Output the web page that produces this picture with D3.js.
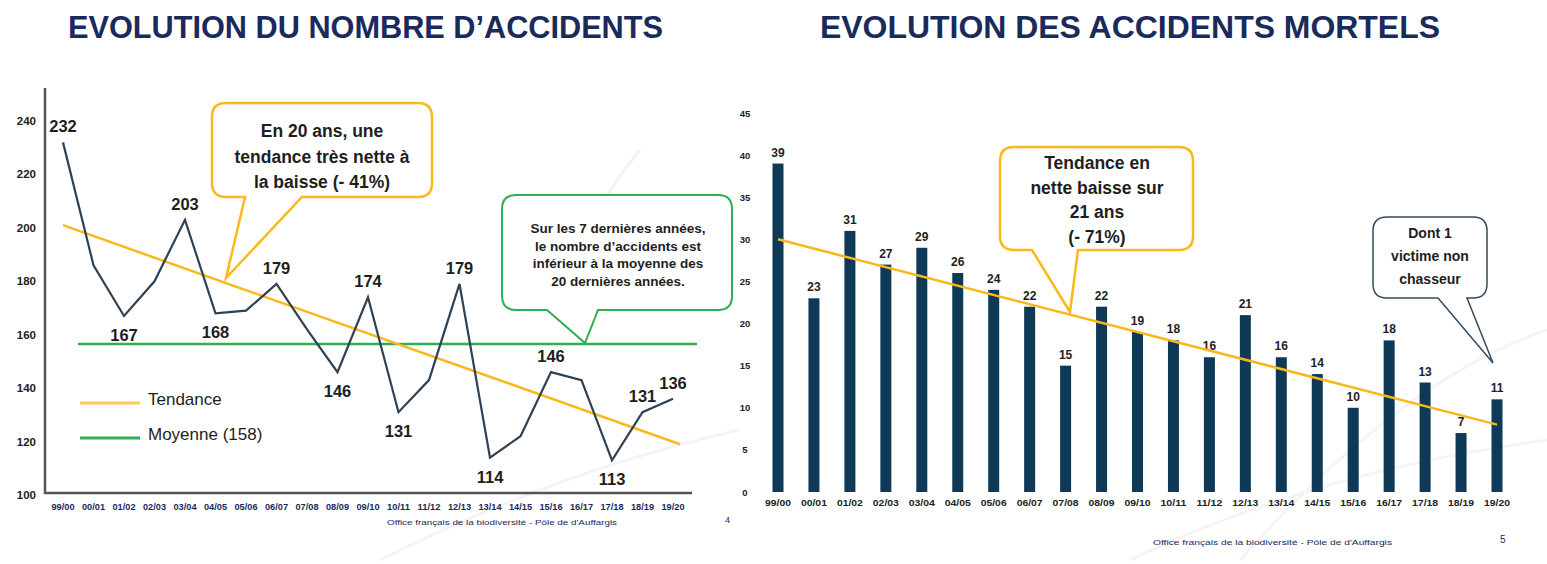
<!DOCTYPE html>
<html>
<head>
<meta charset="utf-8">
<script src="https://cdnjs.cloudflare.com/ajax/libs/d3/7.8.5/d3.min.js"></script>
<style>
  body { margin: 0; background: #fff; }
  svg { display: block; font-family: "Liberation Sans", Arial, sans-serif; }
</style>
</head>
<body>
<svg id="chart" width="1547" height="564"></svg>
<script>
// seasons (shared by both charts)
var seasons = ["99/00","00/01","01/02","02/03","03/04","04/05","05/06","06/07","07/08","08/09",
               "09/10","10/11","11/12","12/13","13/14","14/15","15/16","16/17","17/18","18/19","19/20"];

// left chart : number of accidents
var accidents = [232,186,167,180,203,168,169,179,162,146,174,131,143,179,114,122,146,143,113,131,136];
var accidentsTrend = [201, 119];   // start / end of the trend line
var accidentsMean = 156.5;          // where the mean line is drawn
var accidentsTicks = [100,120,140,160,180,200,220,240];

// right chart : fatal accidents
var fatal = [39,23,31,27,29,26,24,22,15,22,19,18,16,21,16,14,10,18,13,7,11];
var fatalTrend = [30, 8];
var fatalTicks = [0,5,10,15,20,25,30,35,40,45];

// which accident values get a label, and on which side
var labelSide = ["up",null,"down",null,"up","down",null,"up",null,"down",
                 "up","down",null,"up","down",null,"up",null,"down","up","up"];

var svg = d3.select("#chart");
var navy = "#1b2a5c", orange = "#F9B81B", green = "#2FAE52", bar = "#0e3a57", ink = "#1e1e1e";

// faint background swooshes
var deco = svg.append("g").attr("fill", "none").attr("stroke", "#f4f4f4").attr("stroke-width", 3);
deco.append("path").attr("d", "M540,300 Q600,200 640,150");
deco.append("path").attr("d", "M380,560 Q560,470 740,430");
deco.append("path").attr("d", "M1130,560 Q1320,470 1547,440");
deco.append("path").attr("d", "M1240,560 Q1400,380 1547,330");

// titles
svg.append("text").attr("x", 68).attr("y", 38).attr("fill", navy)
  .attr("font-size", 31).attr("font-weight", "bold")
  .attr("textLength", 595).attr("lengthAdjust", "spacingAndGlyphs")
  .text("EVOLUTION DU NOMBRE D’ACCIDENTS");
svg.append("text").attr("x", 820).attr("y", 38).attr("fill", navy)
  .attr("font-size", 31).attr("font-weight", "bold")
  .attr("textLength", 620).attr("lengthAdjust", "spacingAndGlyphs")
  .text("EVOLUTION DES ACCIDENTS MORTELS");

// rounded box with a pointer on its bottom edge
function callout(g, x0, y0, x1, y1, b1, b2, tip, color, width) {
  var r = 14;
  var d = "M" + (x0 + r) + "," + y0 + " H" + (x1 - r) + " Q" + x1 + "," + y0 + " " + x1 + "," + (y0 + r) +
          " V" + (y1 - r) + " Q" + x1 + "," + y1 + " " + (x1 - r) + "," + y1 +
          " H" + b2 + " L" + tip[0] + "," + tip[1] + " L" + b1 + "," + y1 +
          " H" + (x0 + r) + " Q" + x0 + "," + y1 + " " + x0 + "," + (y1 - r) +
          " V" + (y0 + r) + " Q" + x0 + "," + y0 + " " + (x0 + r) + "," + y0 + " Z";
  g.append("path").attr("d", d).attr("fill", "#fff").attr("stroke", color).attr("stroke-width", width);
}
function lines(g, cx, y, step, size, arr) {
  arr.forEach(function (s, i) {
    g.append("text").attr("x", cx).attr("y", y + i * step).attr("text-anchor", "middle")
      .attr("font-size", size).attr("font-weight", "bold").attr("fill", ink).text(s);
  });
}

// ---------------- left chart ----------------
var L = svg.append("g");
var xL = d3.scalePoint().domain(seasons).range([63, 673]);
var yL = d3.scaleLinear().domain([100, 240]).range([495, 121]);

// frame
L.append("path").attr("d", "M45,88 V493 H692").attr("fill", "none").attr("stroke", "#555").attr("stroke-width", 2.5);

L.selectAll(".yt").data(accidentsTicks).enter().append("text")
  .attr("x", 36).attr("y", function (d) { return yL(d) + 4; }).attr("text-anchor", "end")
  .attr("font-size", 11.5).attr("font-weight", "bold").attr("fill", "#222").text(function (d) { return d; });

L.selectAll(".xt").data(seasons).enter().append("text")
  .attr("x", function (d) { return xL(d); }).attr("y", 510).attr("text-anchor", "middle")
  .attr("font-size", 8.5).attr("font-weight", "bold").attr("fill", navy)
  .attr("textLength", 23).attr("lengthAdjust", "spacingAndGlyphs").text(function (d) { return d; });

// mean line
L.append("line").attr("x1", 78).attr("x2", 697).attr("y1", yL(accidentsMean)).attr("y2", yL(accidentsMean))
  .attr("stroke", green).attr("stroke-width", 2.5);
// trend line
L.append("line").attr("x1", xL(seasons[0])).attr("y1", yL(accidentsTrend[0]))
  .attr("x2", 680).attr("y2", yL(accidentsTrend[1])).attr("stroke", orange).attr("stroke-width", 2.5);

// series
L.append("path").datum(accidents)
  .attr("d", d3.line().x(function (d, i) { return xL(seasons[i]); }).y(function (d) { return yL(d); }))
  .attr("fill", "none").attr("stroke", "#2d4254").attr("stroke-width", 2.2);

accidents.forEach(function (d, i) {
  if (!labelSide[i]) return;
  L.append("text")
    .attr("x", xL(seasons[i])).attr("y", yL(d) + (labelSide[i] === "up" ? -10 : 25))
    .attr("text-anchor", "middle").attr("font-size", 16.5).attr("font-weight", "bold").attr("fill", ink).text(d);
});

// legend
L.append("line").attr("x1", 80).attr("x2", 140).attr("y1", 403).attr("y2", 403).attr("stroke", "#FFC857").attr("stroke-width", 3);
L.append("text").attr("x", 148).attr("y", 399).attr("dy", "0.35em").attr("font-size", 17).attr("fill", ink).text("Tendance");
L.append("line").attr("x1", 80).attr("x2", 140).attr("y1", 438).attr("y2", 438).attr("stroke", green).attr("stroke-width", 3);
L.append("text").attr("x", 148).attr("y", 434).attr("dy", "0.35em").attr("font-size", 17).attr("fill", ink).text("Moyenne (158)");

callout(L, 212, 103, 432, 197, 245, 302, [226, 278], orange, 2.5);
lines(L, 322, 137, 25.5, 17.5, ["En 20 ans, une", "tendance très nette à", "la baisse (- 41%)"]);
callout(L, 502, 195, 732, 310, 547, 598, [585, 343], green, 2);
lines(L, 618, 233, 17.5, 13.5, ["Sur les 7 dernières années,", "le nombre d’accidents est", "inférieur à la moyenne des", "20 dernières années."]);

L.append("text").attr("x", 387).attr("y", 525).attr("font-size", 7.5).attr("fill", navy)
  .attr("textLength", 230).attr("lengthAdjust", "spacingAndGlyphs")
  .text("Office français de la biodiversité  -  Pôle de d'Auffargis");
L.append("text").attr("x", 725).attr("y", 523).attr("font-size", 9).attr("fill", navy).text("4");

// ---------------- right chart ----------------
var R = svg.append("g");
var xR = d3.scalePoint().domain(seasons).range([778, 1497]);
var yR = d3.scaleLinear().domain([0, 45]).range([492, 113]);
var bw = 11;

R.selectAll(".yt").data(fatalTicks).enter().append("text")
  .attr("x", 745).attr("y", function (d) { return yR(d) + 3.5; }).attr("text-anchor", "middle")
  .attr("font-size", 9.5).attr("font-weight", "bold").attr("fill", "#222").text(function (d) { return d; });

R.selectAll(".xt").data(seasons).enter().append("text")
  .attr("x", function (d) { return xR(d); }).attr("y", 506).attr("text-anchor", "middle")
  .attr("font-size", 9.5).attr("font-weight", "bold").attr("fill", "#222")
  .attr("textLength", 26).attr("lengthAdjust", "spacingAndGlyphs").text(function (d) { return d; });

R.selectAll(".bar").data(fatal).enter().append("rect")
  .attr("x", function (d, i) { return xR(seasons[i]) - bw / 2; })
  .attr("y", function (d) { return yR(d); })
  .attr("width", bw).attr("height", function (d) { return yR(0) - yR(d); })
  .attr("fill", bar);

R.selectAll(".bl").data(fatal).enter().append("text")
  .attr("x", function (d, i) { return xR(seasons[i]); })
  .attr("y", function (d) { return yR(d) - 7; })
  .attr("text-anchor", "middle").attr("font-size", 12).attr("font-weight", "bold").attr("fill", ink)
  .text(function (d) { return d; });

R.append("line").attr("x1", xR(seasons[0])).attr("y1", yR(fatalTrend[0]))
  .attr("x2", xR(seasons[20])).attr("y2", yR(fatalTrend[1])).attr("stroke", orange).attr("stroke-width", 2.5);

callout(R, 1000, 147, 1193, 250, 1032, 1078, [1070, 312], orange, 2.5);
lines(R, 1097, 169, 24.5, 17.5, ["Tendance en", "nette baisse sur", "21 ans", "(- 71%)"]);
callout(R, 1373, 217, 1487, 298, 1438, 1467, [1493, 363], "#34495e", 1.5);
lines(R, 1430, 238, 23, 14, ["Dont 1", "victime non", "chasseur"]);

R.append("text").attr("x", 1153).attr("y", 545).attr("font-size", 7.5).attr("fill", navy)
  .attr("textLength", 239).attr("lengthAdjust", "spacingAndGlyphs")
  .text("Office français de la biodiversité  -  Pôle de d'Auffargis");
R.append("text").attr("x", 1500).attr("y", 543).attr("font-size", 10).attr("fill", navy).text("5");
</script>
</body>
</html>
